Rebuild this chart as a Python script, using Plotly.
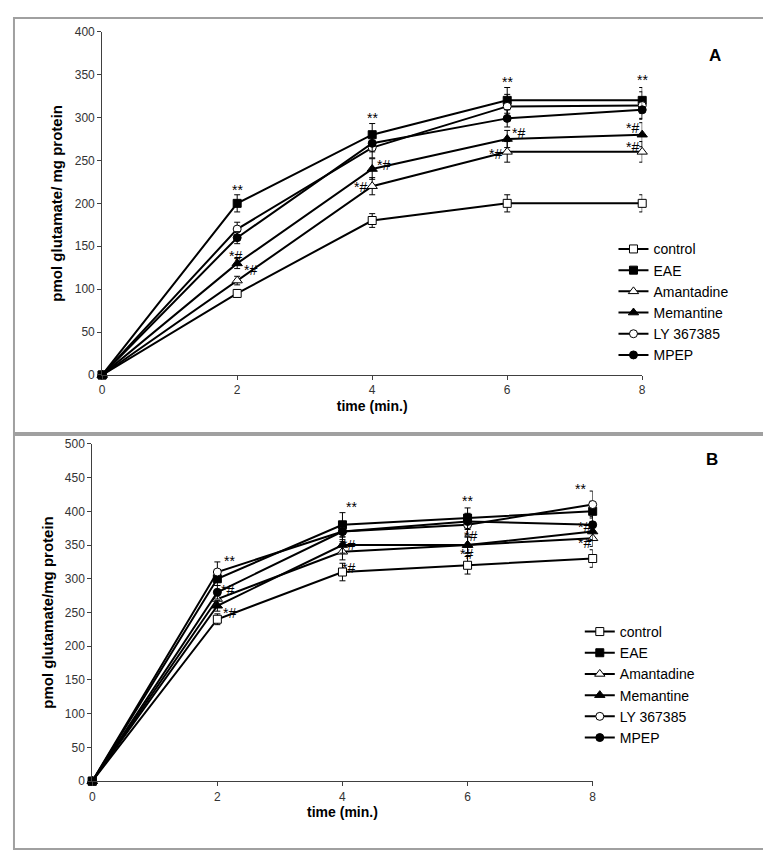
import plotly.graph_objects as go

W, H = 771, 851

time_min = [0, 2, 4, 6, 8]
series_names = ["control", "EAE", "Amantadine", "Memantine", "LY 367385", "MPEP"]

# Panel A values (pmol glutamate / mg protein)
control_A = [0, 95, 180, 200, 200]
EAE_A = [0, 200, 280, 320, 320]
amantadine_A = [0, 110, 220, 260, 260]
memantine_A = [0, 130, 240, 275, 280]
ly_A = [0, 170, 265, 313, 314]
mpep_A = [0, 160, 270, 299, 309]

control_A_err = [0, 4, 8, 10, 10]
EAE_A_err = [0, 10, 13, 15, 15]
amantadine_A_err = [0, 5, 10, 12, 12]
memantine_A_err = [0, 6, 12, 10, 14]
ly_A_err = [0, 8, 12, 14, 16]
mpep_A_err = [0, 7, 10, 10, 10]

# Panel B values
control_B = [0, 240, 310, 320, 330]
EAE_B = [0, 300, 380, 390, 400]
amantadine_B = [0, 270, 340, 350, 360]
memantine_B = [0, 260, 350, 350, 370]
ly_B = [0, 310, 370, 380, 410]
mpep_B = [0, 280, 370, 385, 380]

control_B_err = [0, 8, 13, 13, 13]
EAE_B_err = [0, 10, 18, 15, 15]
amantadine_B_err = [0, 10, 12, 12, 12]
memantine_B_err = [0, 8, 12, 12, 12]
ly_B_err = [0, 15, 15, 15, 20]
mpep_B_err = [0, 10, 12, 12, 12]

# significance marks (x, y, text)
marks_A = [(2, 216, "**"), (4, 300, "**"), (6, 341, "**"), (8, 344, "**"),
           (1.98, 139, "*#"), (2.2, 122, "*#"), (4.17, 245, "*#"), (3.83, 219, "*#"),
           (6.16, 282, "*#"), (5.83, 258, "*#"), (7.85, 288, "*#"), (7.85, 266, "*#")]
marks_B = [(2.19, 326, "**"), (2.17, 284, "*#"), (2.2, 250, "*#"),
           (4.15, 406, "**"), (4.1, 350, "*#"), (4.1, 316, "*#"),
           (6.0, 416, "**"), (6.05, 363, "*#"), (5.98, 336, "*#"),
           (7.8, 433, "**"), (7.87, 377, "*#"), (7.87, 353, "*#")]

FONT = "Liberation Sans, Arial, sans-serif"

symbols = ["square", "square", "triangle-up", "triangle-up", "circle", "circle"]
fills = ["white", "black", "white", "black", "white", "black"]
sizes = [8, 8, 9, 9, 8, 8]

data_A = [control_A, EAE_A, amantadine_A, memantine_A, ly_A, mpep_A]
err_A = [control_A_err, EAE_A_err, amantadine_A_err, memantine_A_err, ly_A_err, mpep_A_err]
data_B = [control_B, EAE_B, amantadine_B, memantine_B, ly_B, mpep_B]
err_B = [control_B_err, EAE_B_err, amantadine_B_err, memantine_B_err, ly_B_err, mpep_B_err]

fig = go.Figure()

for panel, (datas, errs, xa, ya, leg) in enumerate([(data_A, err_A, "x", "y", "legend"),
                                                    (data_B, err_B, "x2", "y2", "legend2")]):
    for i, name in enumerate(series_names):
        fig.add_trace(go.Scatter(
            x=time_min, y=datas[i], name=name, mode="lines+markers",
            xaxis=xa, yaxis=ya, legend=leg, cliponaxis=False,
            line=dict(color="black", width=2),
            marker=dict(symbol=symbols[i], size=sizes[i], color=fills[i],
                        line=dict(color="black", width=1)),
            error_y=dict(type="data", array=errs[i], visible=True,
                         color="black", thickness=1, width=3),
        ))

def px_x(p):
    return p / W

def px_y(p):
    return 1 - p / H

axis_common = dict(showline=True, linecolor="#404040", linewidth=1, ticks="outside",
                   ticklen=4, tickcolor="#404040", showgrid=False, zeroline=False,
                   tickfont=dict(family=FONT, size=12, color="#333333"))

fig.update_layout(
    width=W, height=H, margin=dict(l=0, r=0, t=0, b=0),
    paper_bgcolor="white", plot_bgcolor="white", font=dict(family=FONT, color="black"),
    xaxis=dict(domain=[px_x(92), px_x(637)], anchor="y", range=[0, 8], tickvals=[0, 2, 4, 6, 8],
               title=dict(text="time (min.)", standoff=4,
                          font=dict(family=FONT, size=14, weight="bold", color="black")),
               **axis_common),
    yaxis=dict(domain=[px_y(366), px_y(17)], anchor="x", range=[0, 400], dtick=50,
               title=dict(text="pmol glutamate/ mg protein", standoff=8,
                          font=dict(family=FONT, size=15, weight="bold", color="black")),
               **axis_common),
    xaxis2=dict(domain=[px_x(82), px_x(587)], anchor="y2", range=[0, 8], tickvals=[0, 2, 4, 6, 8],
                title=dict(text="time (min.)", standoff=4,
                           font=dict(family=FONT, size=14, weight="bold", color="black")),
                **axis_common),
    yaxis2=dict(domain=[px_y(779), px_y(436)], anchor="x2", range=[0, 500], dtick=50,
                title=dict(text="pmol glutamate/mg protein", standoff=7,
                           font=dict(family=FONT, size=15, weight="bold", color="black")),
                **axis_common),
    legend=dict(x=px_x(608), y=px_y(222), xanchor="left", yanchor="top",
                bgcolor="rgba(0,0,0,0)", font=dict(family=FONT, size=14, color="black"),
                tracegroupgap=0),
    legend2=dict(x=px_x(574), y=px_y(611), xanchor="left", yanchor="top",
                 bgcolor="rgba(0,0,0,0)", font=dict(family=FONT, size=14, color="black"),
                 tracegroupgap=0),
    showlegend=True,
)

shapes = [
    dict(type="rect", xref="paper", yref="paper", x0=px_x(3), x1=px_x(766),
         y0=px_y(425), y1=px_y(3), line=dict(color="#a0a0a0", width=2)),
    dict(type="rect", xref="paper", yref="paper", x0=px_x(3), x1=px_x(766),
         y0=px_y(848), y1=px_y(427), line=dict(color="#a0a0a0", width=2)),
]
fig.update_layout(shapes=shapes)

annotations = [
    dict(text="<b>A</b>", xref="paper", yref="paper", x=px_x(719), y=px_y(29),
         showarrow=False, font=dict(family=FONT, size=17, color="black")),
    dict(text="<b>B</b>", xref="paper", yref="paper", x=px_x(715), y=px_y(452),
         showarrow=False, font=dict(family=FONT, size=17, color="black")),
]
for (mx, my, t) in marks_A:
    annotations.append(dict(text=t, x=mx, y=my, xref="x", yref="y", showarrow=False,
                            font=dict(family=FONT, size=14, color="black")))
for (mx, my, t) in marks_B:
    annotations.append(dict(text=t, x=mx, y=my, xref="x2", yref="y2", showarrow=False,
                            font=dict(family=FONT, size=14, color="black")))
fig.update_layout(annotations=annotations)

fig.write_html("out.html")
